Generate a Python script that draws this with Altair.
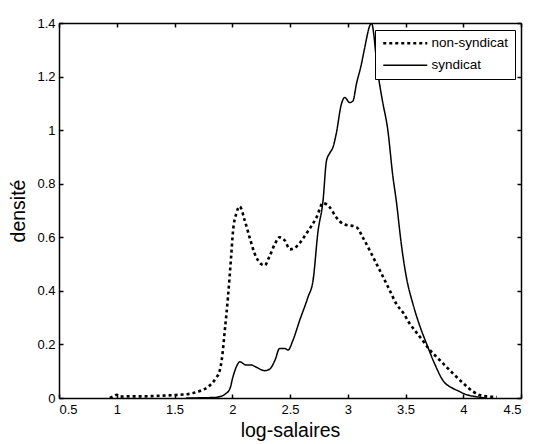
import altair as alt
import pandas as pd

# ---- data ----
series_names = ["non-syndicat", "syndicat"]

nonsyn_x = [0.94, 0.97, 1.0, 1.03, 1.1, 1.2, 1.3, 1.4, 1.5, 1.57, 1.65, 1.72, 1.8, 1.86,
            1.89, 1.91, 1.935, 1.963, 1.99, 2.006, 2.036, 2.065, 2.108, 2.15, 2.194, 2.25,
            2.28, 2.32, 2.37, 2.41, 2.455, 2.5, 2.555, 2.64, 2.73, 2.786, 2.844, 2.9, 2.96,
            3.075, 3.13, 3.19, 3.25, 3.306, 3.363, 3.42, 3.48, 3.536, 3.594, 3.65, 3.71,
            3.767, 3.825, 3.91, 4.0, 4.085, 4.14, 4.2, 4.29]
nonsyn_y = [0.0, 0.006, 0.012, 0.005, 0.006, 0.006, 0.007, 0.009, 0.011, 0.013, 0.017, 0.026,
            0.045, 0.075, 0.1, 0.145, 0.25, 0.377, 0.526, 0.62, 0.69, 0.715, 0.663, 0.6,
            0.539, 0.5, 0.495, 0.526, 0.576, 0.6, 0.588, 0.555, 0.565, 0.613, 0.675, 0.728,
            0.712, 0.675, 0.65, 0.638, 0.6, 0.551, 0.5, 0.452, 0.402, 0.352, 0.318, 0.278,
            0.245, 0.214, 0.179, 0.154, 0.129, 0.092, 0.055, 0.024, 0.011, 0.006, 0.004]

syn_x = [1.6, 1.85, 1.89, 1.94, 1.98, 2.006, 2.036, 2.065, 2.12, 2.165, 2.209, 2.28, 2.324,
         2.37, 2.41, 2.455, 2.483, 2.526, 2.584, 2.656, 2.7, 2.742, 2.786, 2.816, 2.845,
         2.872, 2.9, 2.945, 2.973, 3.017, 3.045, 3.075, 3.118, 3.147, 3.19, 3.205, 3.262,
         3.3, 3.347, 3.39, 3.42, 3.465, 3.508, 3.565, 3.623, 3.68, 3.75, 3.825, 3.91, 3.97,
         4.0, 4.11, 4.2]
syn_y = [0.0, 0.002, 0.005, 0.015, 0.035, 0.079, 0.117, 0.135, 0.123, 0.123, 0.115, 0.102,
         0.108, 0.141, 0.185, 0.185, 0.179, 0.216, 0.29, 0.377, 0.44, 0.62, 0.737, 0.886,
         0.915, 0.936, 0.986, 1.097, 1.122, 1.103, 1.109, 1.172, 1.246, 1.308, 1.389, 1.4,
         1.209, 1.11, 1.0, 0.83, 0.737, 0.57, 0.45, 0.35, 0.27, 0.205, 0.13, 0.065, 0.036,
         0.024, 0.017, 0.005, 0.0]

x_ticks = [0.5, 1, 1.5, 2, 2.5, 3, 3.5, 4, 4.5]
y_ticks = [0, 0.2, 0.4, 0.6, 0.8, 1, 1.2, 1.4]

rows = []
for xv, yv in zip(nonsyn_x, nonsyn_y):
    rows.append({"x": xv, "y": yv, "serie": series_names[0]})
for xv, yv in zip(syn_x, syn_y):
    rows.append({"x": xv, "y": yv, "serie": series_names[1]})
df = pd.DataFrame(rows)

FONT = "Liberation Sans"
xscale = alt.Scale(domain=[0.5, 4.5], nice=False, zero=False)
yscale = alt.Scale(domain=[0, 1.4], nice=False, zero=False)

base = alt.Chart(df)

lab_common = dict(format="~g", ticks=False, tickSize=0, domain=True, domainColor="black",
                  domainWidth=1.5, grid=False, labelFont=FONT, labelFontSize=13,
                  labelColor="#000", titleFont=FONT, titleFontSize=19.5,
                  titleFontWeight="normal", titleColor="#000")

lines = base.mark_line(color="black", interpolate="monotone", clip=True).encode(
    x=alt.X("x:Q", scale=xscale,
            axis=alt.Axis(orient="bottom", values=x_ticks, labelPadding=5,
                          title="log-salaires", titlePadding=5, **lab_common)),
    y=alt.Y("y:Q", scale=yscale,
            axis=alt.Axis(orient="left", values=y_ticks, labelPadding=4,
                          title="densité", titlePadding=8, **lab_common)),
    strokeDash=alt.StrokeDash(
        "serie:N",
        scale=alt.Scale(domain=series_names, range=[[3, 3], [1, 0]]),
        legend=alt.Legend(title=None, orient="none", legendX=316, legendY=7,
                          symbolType="M-3.25,0H18.75", symbolSize=16,
                          symbolStrokeColor="black", labelFont=FONT,
                          labelFontSize=13.5, labelColor="#000", padding=6.5,
                          rowPadding=7, symbolOffset=1.5, labelOffset=35,
                          strokeColor="black", fillColor="white"),
    ),
    strokeWidth=alt.StrokeWidth(
        "serie:N",
        scale=alt.Scale(domain=series_names, range=[2.6, 1.5]),
        legend=None,
    ),
)

tick_axis = dict(format="~g", labels=False, domain=False, grid=False, ticks=True,
                 tickSize=4, tickColor="black", tickWidth=1.5, offset=-4, title=None)
frame_axis = dict(labels=False, domain=True, domainColor="black", domainWidth=1.5,
                  grid=False, ticks=False, title=None)

ticks_bl = base.mark_point(opacity=0).encode(
    x=alt.X("x:Q", scale=xscale, axis=alt.Axis(orient="bottom", values=x_ticks, **tick_axis)),
    y=alt.Y("y:Q", scale=yscale, axis=alt.Axis(orient="left", values=y_ticks, **tick_axis)),
)
ticks_tr = base.mark_point(opacity=0).encode(
    x=alt.X("x:Q", scale=xscale, axis=alt.Axis(orient="top", values=x_ticks, **tick_axis)),
    y=alt.Y("y:Q", scale=yscale, axis=alt.Axis(orient="right", values=y_ticks, **tick_axis)),
)
frame_tr = base.mark_point(opacity=0).encode(
    x=alt.X("x:Q", scale=xscale, axis=alt.Axis(orient="top", **frame_axis)),
    y=alt.Y("y:Q", scale=yscale, axis=alt.Axis(orient="right", **frame_axis)),
)

chart = alt.layer(lines, ticks_bl, ticks_tr, frame_tr).resolve_axis(
    x="independent", y="independent"
).properties(
    width=462, height=375,
    autosize=alt.AutoSizeParams(type="none"),
    padding={"left": 51, "top": 15, "right": 4, "bottom": 44},
).configure_view(stroke="black", strokeWidth=1.5).configure(background="white")

chart.save("out.html", embed_options={"renderer": "svg", "actions": False})
